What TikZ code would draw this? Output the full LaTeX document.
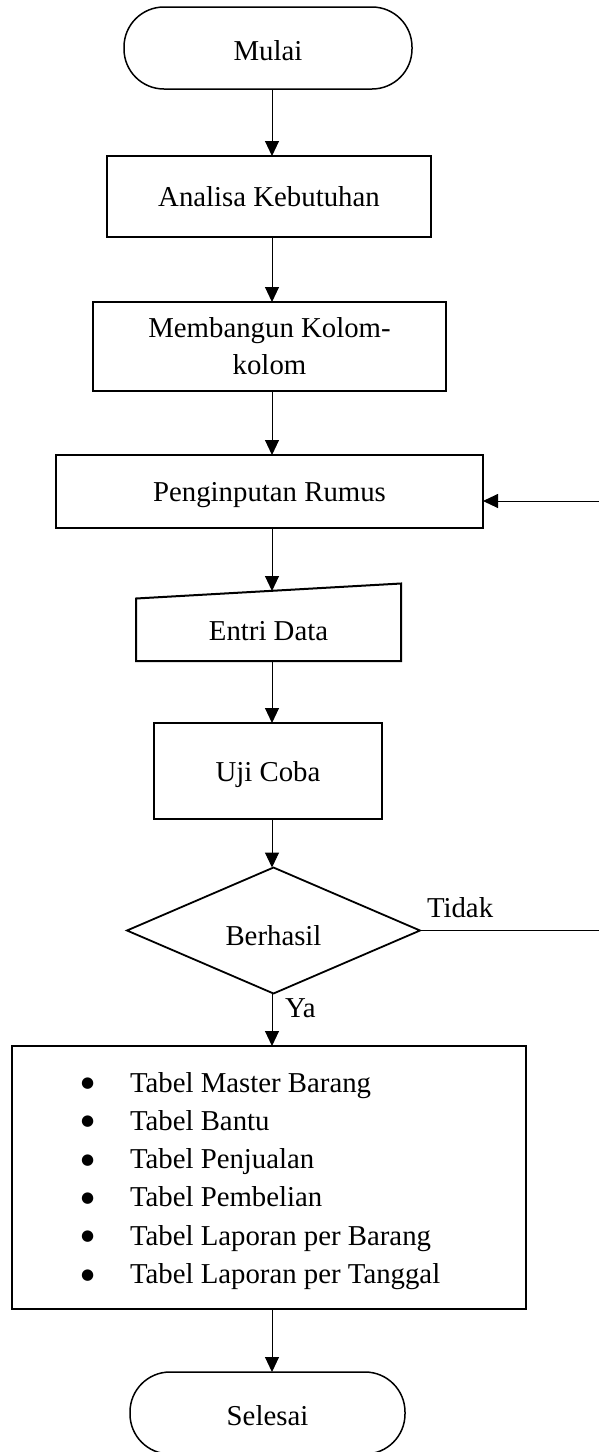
\documentclass[tikz,border=0pt]{standalone}
\usepackage{fontspec}
\setmainfont{Liberation Serif}
\newfontfamily\bulfont{DejaVu Sans}
\usetikzlibrary{arrows.meta,shapes.geometric,calc}
\newcommand{\mybul}{\makebox[49pt][l]{\raisebox{4.5pt}{\bulfont\fontsize{15}{15}\selectfont ●}}}
\begin{document}
\begin{tikzpicture}[x=1pt,y=-1pt,
  font=\fontsize{28.8}{37}\selectfont,
  every node/.style={inner sep=0pt,outer sep=0pt},
  box/.style={draw,line width=2pt,rectangle,text height=20pt,text depth=0pt},
  term/.style={draw,line width=1.5pt,rectangle,rounded corners=40pt,text height=24pt,text depth=0pt},
  dec/.style={draw,line width=1.8pt,diamond,text height=30pt,text depth=0pt},
  arr/.style={line width=1pt,-{Triangle[length=15pt,width=14pt]}},
  ln/.style={line width=1pt},
  item/.style={anchor=base west}]
\useasboundingbox (0,0) rectangle (599,1452);
\coordinate (axis) at (272,0);
\coordinate (rt) at (606,0);

\node[term,minimum width=288pt,minimum height=82pt] (mulai) at (268,48) {Mulai};
\node[box,minimum width=324pt,minimum height=81pt] (analisa) at (269,196.5) {Analisa Kebutuhan};
\node[draw,line width=2pt,rectangle,align=center,minimum width=353pt,minimum height=89pt] (bangun) at (269.5,346.5) {Membangun Kolom-\\kolom};
\node[box,minimum width=427pt,minimum height=73pt] (pen) at (269.5,491.5) {Penginputan Rumus};
\node[rectangle,text height=28pt,text depth=0pt,minimum width=265pt,minimum height=70pt] (entri) at (268.5,626) {Entri Data};
\draw[line width=2pt] (entri.south west) -- (entri.south east) -- ([yshift=7.5pt]entri.north east) -- ([yshift=-7.5pt]entri.north west) -- cycle;
\node[box,minimum width=228pt,minimum height=96pt] (uji) at (268,771) {Uji Coba};
\node[dec,minimum width=293pt,minimum height=97pt] (hasil) at (273.5,930.5) {Berhasil};
\node[draw,line width=2pt,rectangle,minimum width=514pt,minimum height=263pt] (lst) at (269,1177.5) {};
\node[item] (i1) at (81,1092) {\mybul Tabel Master Barang};
\node[item] (i2) at (81,1130.3) {\mybul Tabel Bantu};
\node[item] (i3) at (81,1168.6) {\mybul Tabel Penjualan};
\node[item] (i4) at (81,1206.9) {\mybul Tabel Pembelian};
\node[item] (i5) at (81,1245.2) {\mybul Tabel Laporan per Barang};
\node[item] (i6) at (81,1283.5) {\mybul Tabel Laporan per Tanggal};
\node[term,minimum width=275pt,minimum height=82pt] (selesai) at (267.5,1413) {Selesai};

\node[anchor=base west] (tidak) at (427,917) {Tidak};
\node[anchor=base west] (ya) at (285,1017) {Ya};

\draw[arr] (mulai.south -| axis) -- (analisa.north -| axis);
\draw[arr] (analisa.south -| axis) -- (bangun.north -| axis);
\draw[arr] (bangun.south -| axis) -- (pen.north -| axis);
\draw[arr] (pen.south -| axis) -- (entri.north -| axis);
\draw[arr] (entri.south -| axis) -- (uji.north -| axis);
\draw[arr] (uji.south -| axis) -- (hasil.north -| axis);
\draw[arr] (hasil.south -| axis) -- (lst.north -| axis);
\draw[arr] (lst.south -| axis) -- (selesai.north -| axis);
\coordinate (pe) at ([yshift=-9.5pt]pen.east);
\draw[arr] (hasil.east) -- (hasil.east -| rt) -- (rt |- pe) -- (pe);
\end{tikzpicture}
\end{document}
